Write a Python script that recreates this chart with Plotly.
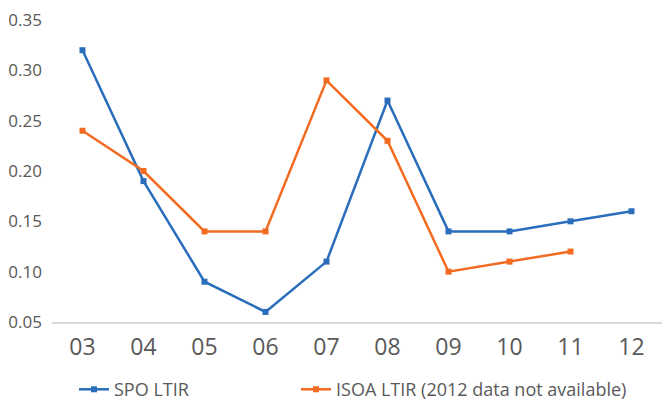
import plotly.graph_objects as go

years = ["03", "04", "05", "06", "07", "08", "09", "10", "11", "12"]
spo_ltir = [0.32, 0.19, 0.09, 0.06, 0.11, 0.27, 0.14, 0.14, 0.15, 0.16]
isoa_ltir = [0.24, 0.20, 0.14, 0.14, 0.29, 0.23, 0.10, 0.11, 0.12, None]
y_ticks = [0.05, 0.10, 0.15, 0.20, 0.25, 0.30, 0.35]

blue = "#2a6ebb"
orange = "#f26b21"
grey = "#595959"
font_family = "'Open Sans', sans-serif"

fig = go.Figure()
fig.add_trace(go.Scatter(
    x=years, y=spo_ltir, name="SPO LTIR", mode="lines+markers",
    line=dict(color=blue, width=2.5),
    marker=dict(symbol="square", size=6, color=blue),
    legend="legend",
))
fig.add_trace(go.Scatter(
    x=years, y=isoa_ltir, name="ISOA LTIR (2012 data not available)", mode="lines+markers",
    line=dict(color=orange, width=2.5),
    marker=dict(symbol="square", size=6, color=orange),
    connectgaps=False,
    legend="legend2",
))

legend_common = dict(
    orientation="h", yref="container", y=0.026, yanchor="middle",
    xref="container", xanchor="left",
    font=dict(size=18, color=grey, family=font_family),
    bgcolor="rgba(0,0,0,0)",
)

fig.update_layout(
    width=662, height=400,
    margin=dict(l=52, r=0, t=20, b=78),
    paper_bgcolor="white", plot_bgcolor="white",
    font=dict(family=font_family, color=grey),
    showlegend=True,
    legend=dict(x=74 / 662, **legend_common),
    legend2=dict(x=296 / 662, **legend_common),
    xaxis=dict(
        type="category", range=[-0.5, 9.5], automargin=False,
        showgrid=False, showline=True, linecolor="#d9d9d9", linewidth=1.5,
        ticks="", tickfont=dict(size=23, color=grey),
        ticklabelstandoff=4,
        zeroline=False,
    ),
    yaxis=dict(
        range=[0.05, 0.35], tickvals=y_ticks, tickformat=".2f", automargin=False,
        showgrid=False, showline=False, zeroline=False,
        ticks="", tickfont=dict(size=17, color=grey),
        ticklabelstandoff=9,
    ),
)

fig.write_html(
    "out.html",
    config={"displayModeBar": False},
    post_script="document.body.style.margin='0';",
)
